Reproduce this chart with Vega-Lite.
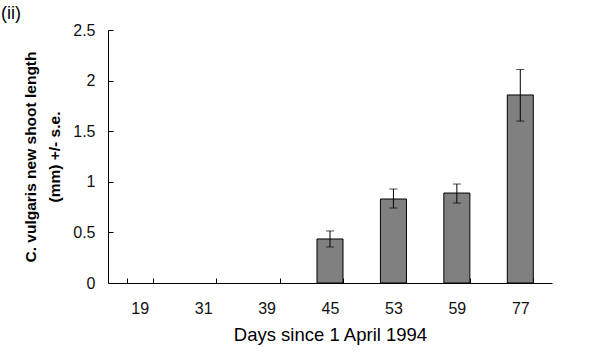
{
  "$schema": "https://vega.github.io/schema/vega-lite/v6.json",
  "width": 444,
  "height": 253,
  "autosize": {"type": "none"},
  "padding": {"left": 108, "top": 30, "right": 54, "bottom": 70},
  "background": "white",
  "title": {"text": "(ii)", "anchor": "start", "frame": "group", "dx": -107, "offset": -1, "fontSize": 18, "fontWeight": "normal", "font": "Liberation Sans", "color": "black"},
  "config": {"view": {"stroke": null}, "font": "Liberation Sans"},
  "data": {"values": [
    {"day": "19", "mean": 0, "lo": null, "hi": null},
    {"day": "31", "mean": 0, "lo": null, "hi": null},
    {"day": "39", "mean": 0, "lo": null, "hi": null},
    {"day": "45", "mean": 0.435, "lo": 0.356, "hi": 0.514},
    {"day": "53", "mean": 0.83, "lo": 0.741, "hi": 0.929},
    {"day": "59", "mean": 0.889, "lo": 0.79, "hi": 0.978},
    {"day": "77", "mean": 1.858, "lo": 1.6, "hi": 2.11}
  ]},
  "encoding": {
    "x": {"field": "day", "type": "nominal", "sort": null,
      "scale": {"domain": ["19", "31", "39", "45", "53", "59", "77"], "paddingInner": 0.59, "paddingOuter": 0.295},
      "axis": {"title": "Days since 1 April 1994", "labelAngle": 0, "tickBand": "extent", "tickSize": -5, "tickColor": "black", "domainColor": "black", "labelPadding": 22, "labelFontSize": 16, "labelColor": "#111", "titleFontSize": 18.5, "titleFontWeight": "normal", "titleColor": "black", "titlePadding": 9}}
  },
  "layer": [
    {
      "transform": [{"filter": "datum.mean > 0"}],
      "mark": {"type": "bar", "color": "#808080", "stroke": "black", "strokeWidth": 1},
      "encoding": {
        "y": {"field": "mean", "type": "quantitative",
          "scale": {"domain": [0, 2.5], "nice": false},
          "axis": {"title": ["C. vulgaris  new shoot length", "(mm) +/- s.e."], "values": [0, 0.5, 1, 1.5, 2, 2.5], "format": ".1~f", "grid": false, "tickSize": -5, "tickColor": "black", "domainColor": "black", "labelPadding": 18, "labelFontSize": 16, "labelColor": "#111", "titleFontSize": 15.5, "titleFontWeight": "bold", "titleColor": "black", "titleLineHeight": 24, "titlePadding": 10}}
      }
    },
    {
      "transform": [{"filter": "datum.hi != null"}],
      "mark": {"type": "rule", "color": "black", "strokeWidth": 1},
      "encoding": {"y": {"field": "lo", "type": "quantitative"}, "y2": {"field": "hi"}}
    },
    {
      "transform": [{"filter": "datum.hi != null"}],
      "mark": {"type": "tick", "color": "black", "size": 8, "thickness": 1},
      "encoding": {"y": {"field": "lo", "type": "quantitative"}}
    },
    {
      "transform": [{"filter": "datum.hi != null"}],
      "mark": {"type": "tick", "color": "black", "size": 8, "thickness": 1},
      "encoding": {"y": {"field": "hi", "type": "quantitative"}}
    }
  ]
}
